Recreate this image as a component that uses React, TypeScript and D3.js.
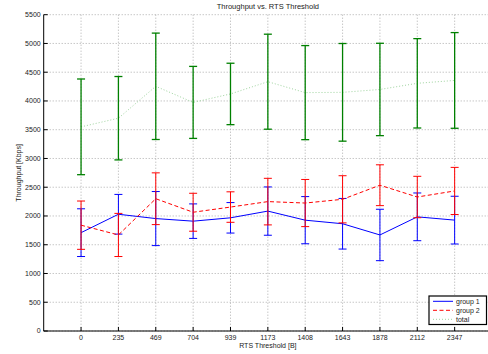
import * as d3 from 'd3';

const categories = ['0', '235', '469', '704', '939', '1173', '1408', '1643', '1878', '2112', '2347'];
const group1Mean = [1710, 2030, 1955, 1910, 1968, 2085, 1927, 1865, 1670, 1985, 1928];
const group1Err = [415, 345, 470, 300, 265, 420, 410, 440, 447, 415, 415];
const group2Mean = [1840, 1670, 2300, 2065, 2155, 2250, 2225, 2290, 2535, 2330, 2435];
const group2Err = [420, 375, 450, 330, 265, 405, 410, 410, 355, 360, 410];
const totalMean = [3550, 3700, 4255, 3975, 4122, 4335, 4145, 4150, 4200, 4307, 4357];
const totalErr = [832, 725, 925, 626, 534, 826, 818, 849, 803, 777, 832];
const yTicks = [0, 500, 1000, 1500, 2000, 2500, 3000, 3500, 4000, 4500, 5000, 5500];

const W = 488;
const H = 354;
const left = 43.7;
const right = 492;
const top = 14.7;
const bottom = 331;
const font = 'Liberation Sans, Arial, Helvetica, sans-serif';

export default function App() {
  const x = d3.scaleLinear().domain([-1, categories.length]).range([left, right]);
  const y = d3.scaleLinear().domain([0, 5500]).range([bottom, top]);
  const line = d3.line<number>().x((_, i) => x(i)).y(d => y(d));

  const series = [
    { name: 'group 1', mean: group1Mean, err: group1Err, color: '#0000ff', barColor: '#0000ff', dash: '', lineColor: '#0000ff', lw: 1, bw: 1 },
    { name: 'group 2', mean: group2Mean, err: group2Err, color: '#ff0000', barColor: '#ff0000', dash: '4,2.5', lineColor: '#ff0000', lw: 1, bw: 1 },
    { name: 'total', mean: totalMean, err: totalErr, color: '#008000', barColor: '#008000', dash: '1,2', lineColor: '#9fd49f', lw: 1, bw: 1.3 },
  ];

  const cap = 4;

  return (
    <svg width={W} height={H} style={{ position: 'absolute', left: 0, top: 0 }}>
      <rect width={W} height={H} fill="#fff" />
      {/* grid */}
      {yTicks.map(t => (
        <line key={'gy' + t} x1={left} x2={right} y1={y(t)} y2={y(t)} stroke="#999" strokeWidth={0.8} strokeDasharray="1,2" />
      ))}
      {categories.map((c, i) => (
        <line key={'gx' + c} x1={x(i)} x2={x(i)} y1={top} y2={bottom} stroke="#999" strokeWidth={0.8} strokeDasharray="1,2" />
      ))}
      {/* series */}
      {series.map(s => (
        <g key={s.name}>
          <path d={line(s.mean) || ''} fill="none" stroke={s.lineColor} strokeWidth={s.lw} strokeDasharray={s.dash || undefined} />
          {s.mean.map((m, i) => {
            const cx = x(i);
            const y1 = y(m + s.err[i]);
            const y2 = y(m - s.err[i]);
            return (
              <g key={i} stroke={s.barColor} strokeWidth={s.bw}>
                <line x1={cx} x2={cx} y1={y1} y2={y2} />
                <line x1={cx - cap} x2={cx + cap} y1={y1} y2={y1} />
                <line x1={cx - cap} x2={cx + cap} y1={y2} y2={y2} />
              </g>
            );
          })}
        </g>
      ))}
      {/* axes */}
      <line x1={left} x2={left} y1={top} y2={bottom} stroke="#000" strokeWidth={1} />
      <line x1={left} x2={right} y1={bottom} y2={bottom} stroke="#000" strokeWidth={1} />
      {yTicks.map(t => (
        <g key={'ty' + t}>
          <line x1={left} x2={left + 4} y1={y(t)} y2={y(t)} stroke="#000" strokeWidth={1} />
          <text x={left - 3} y={y(t)} dy="0.35em" textAnchor="end" fontSize={7} fontFamily={font} fill="#222">{t}</text>
        </g>
      ))}
      {categories.map((c, i) => (
        <g key={'tx' + c}>
          <line x1={x(i)} x2={x(i)} y1={bottom} y2={bottom - 4} stroke="#000" strokeWidth={1} />
          <text x={x(i)} y={338} dy="0.35em" textAnchor="middle" fontSize={7} fontFamily={font} fill="#222">{c}</text>
        </g>
      ))}
      {/* labels */}
      <text x={(left + right) / 2} y={6} dy="0.35em" textAnchor="middle" fontSize={7.5} fontFamily={font} fill="#222">Throughput vs. RTS Threshold</text>
      <text x={(left + right) / 2} y={345.5} dy="0.35em" textAnchor="middle" fontSize={7} fontFamily={font} fill="#222">RTS Threshold [B]</text>
      <text transform={`translate(19,${(top + bottom) / 2}) rotate(-90)`} dy="0.35em" textAnchor="middle" fontSize={7} fontFamily={font} fill="#222">Throughput [Kbps]</text>
      {/* legend */}
      <g>
        <rect x={429} y={296} width={57.5} height={28.5} fill="#fff" stroke="#000" strokeWidth={1.2} />
        {series.map((s, i) => {
          const ly = 301.3 + i * 9;
          return (
            <g key={'lg' + s.name}>
              <line x1={433} x2={453} y1={ly} y2={ly} stroke={s.lineColor} strokeWidth={1} strokeDasharray={s.dash || undefined} />
              <text x={456} y={ly} dy="0.35em" fontSize={7} fontFamily={font} fill="#222">{s.name}</text>
            </g>
          );
        })}
      </g>
    </svg>
  );
}
